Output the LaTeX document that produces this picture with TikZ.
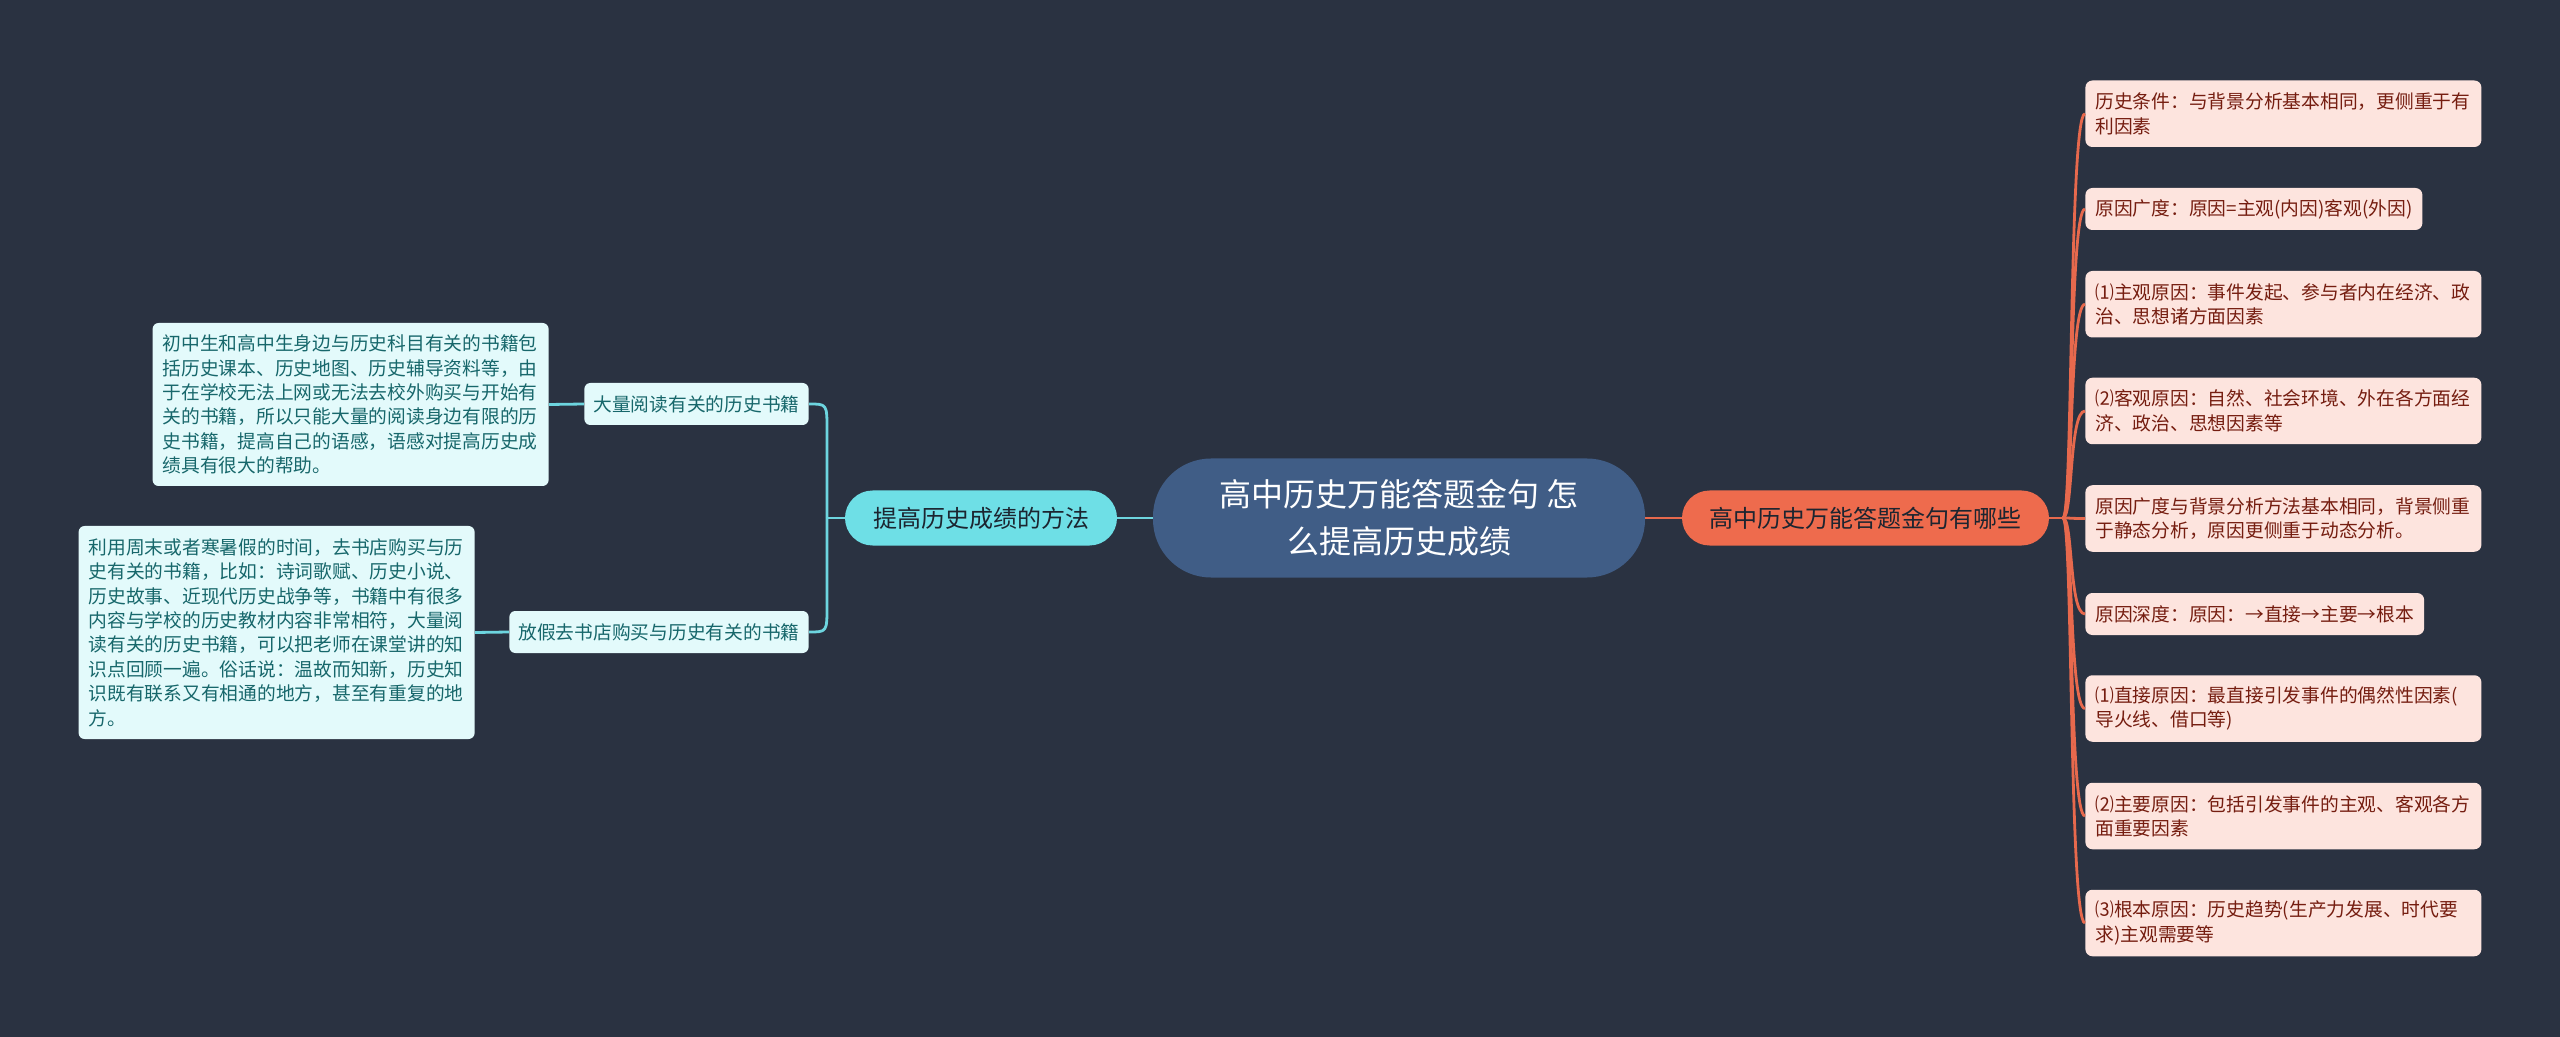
\documentclass[tikz,border=0pt]{standalone}
\usepackage{fontspec}
\newfontfamily\cjk{Noto Sans CJK SC}
\usepackage{xcolor}
\usetikzlibrary{calc}

\definecolor{bgcol}{HTML}{2A3241}
\definecolor{rootcol}{HTML}{405D86}
\definecolor{cyancol}{HTML}{6EDFE6}
\definecolor{cyanline}{HTML}{6DD5DF}
\definecolor{cyanleaf}{HTML}{E3FAFB}
\definecolor{cyantext}{HTML}{17676B}
\definecolor{redcol}{HTML}{EE6B4D}
\definecolor{redline}{HTML}{E7694D}
\definecolor{redleaf}{HTML}{FDE4DE}
\definecolor{redtext}{HTML}{751D10}
\definecolor{darktext}{HTML}{1C2530}

\begin{document}
\begin{tikzpicture}[
			x=0.5pt, y=-0.5pt,
			root/.style={fill=rootcol, text=white, rounded corners=29pt,
				minimum width=246pt, minimum height=59.5pt, align=center,
				font=\cjk\fontsize{16pt}{23.3pt}\selectfont},
			branch/.style={rounded corners=13.75pt, minimum height=27.5pt,
				font=\cjk\fontsize{12pt}{14pt}\selectfont},
			lsub/.style={fill=cyanleaf, text=cyantext, rounded corners=3pt,
				inner xsep=4.5pt, inner ysep=2pt, minimum height=21pt,
				font=\cjk\fontsize{9.375pt}{12.2pt}\selectfont},
			lleaf/.style={lsub, inner xsep=5pt, text width=188pt, align=left},
			rleaf/.style={fill=redleaf, text=redtext, rounded corners=3.5pt,
				inner xsep=5pt, inner ysep=2pt, minimum height=21pt, align=left,
				anchor=west, font=\cjk\fontsize{9.375pt}{12.2pt}\selectfont},
			wide/.style={text width=188pt, minimum height=33.25pt},
			lline/.style={draw=cyanline, line width=1.4pt},
			rline/.style={draw=redline, line width=1.4pt}
			]
			% 背景与画面大小 (按 2560x1037 像素)
			\fill[bgcol] (0,0) rectangle (2560,1037);
			\useasboundingbox (0,0) rectangle (2560,1037);
			
			% 分支线的竖直"脊"的位置
			\def\lsx{827}
			\def\rsx{2063}
			
			% 中心主题
			\node[root] (root) at (1399,518) {高中历史万能答题金句 怎\\么提高历史成绩};
			
			% 两个一级分支
			\node[branch, fill=cyancol, text=darktext, minimum width=136pt] (method) at (981,518) {提高历史成绩的方法};
			\node[branch, fill=redcol, text=darktext, minimum width=183.5pt] (golden) at (1865.5,518) {高中历史万能答题金句有哪些};
			
			% 左侧：二级分支
			\node[lsub, anchor=east] (read) at (809,404) {大量阅读有关的历史书籍};
			\node[lsub, anchor=east] (shop) at (809,632) {放假去书店购买与历史有关的书籍};
			
			% 左侧：说明文字
			\node[lleaf, anchor=east, minimum height=81.5pt] (readtxt) at (549,404.5)
			{初中生和高中生身边与历史科目有关的书籍包\\括历史课本、历史地图、历史辅导资料等，由\\于在学校无法上网或无法去校外购买与开始有\\关的书籍，所以只能大量的阅读身边有限的历\\史书籍，提高自己的语感，语感对提高历史成\\绩具有很大的帮助。};
			\node[lleaf, anchor=east, minimum height=106.5pt] (shoptxt) at (475,632.5)
			{利用周末或者寒暑假的时间，去书店购买与历\\史有关的书籍，比如：诗词歌赋、历史小说、\\历史故事、近现代历史战争等，书籍中有很多\\内容与学校的历史教材内容非常相符，大量阅\\读有关的历史书籍，可以把老师在课堂讲的知\\识点回顾一遍。俗话说：温故而知新，历史知\\识既有联系又有相通的地方，甚至有重复的地\\方。};
			
			% 右侧：九条要点
			\node[rleaf, wide] (r1) at (2085,113.75) {历史条件：与背景分析基本相同，更侧重于有\\利因素};
			\node[rleaf] (r2) at (2085,209) {原因广度：原因=主观(内因)客观(外因)};
			\node[rleaf, wide] (r3) at (2085,304.25) {⑴主观原因：事件发起、参与者内在经济、政\\治、思想诸方面因素};
			\node[rleaf, wide] (r4) at (2085,411) {⑵客观原因：自然、社会环境、外在各方面经\\济、政治、思想因素等};
			\node[rleaf, wide] (r5) at (2085,518.5) {原因广度与背景分析方法基本相同，背景侧重\\于静态分析，原因更侧重于动态分析。};
			\node[rleaf] (r6) at (2085,614) {原因深度：原因：→直接→主要→根本};
			\node[rleaf, wide] (r7) at (2085,708.5) {⑴直接原因：最直接引发事件的偶然性因素(\\导火线、借口等)};
			\node[rleaf, wide] (r8) at (2085,816) {⑵主要原因：包括引发事件的主观、客观各方\\面重要因素};
			\node[rleaf, wide] (r9) at (2085,923) {⑶根本原因：历史趋势(生产力发展、时代要\\求)主观需要等};
			
			% 中心到一级分支
			\draw[lline] (root.west) -- (method.east);
			\draw[rline] (root.east) -- (golden.west);
			
			% 左侧分支线
			\coordinate (lsp) at (\lsx,518);
			\draw[lline] (method.west) -- (lsp);
			\draw[lline] (lsp) -- (\lsx,430) .. controls (\lsx,404) .. (read.east);
			\draw[lline] (lsp) -- (\lsx,606) .. controls (\lsx,632) .. (shop.east);
			\draw[lline] (read.west) -- (readtxt.east);
			\draw[lline] (shop.west) -- (shoptxt.east);
			
			% 右侧分支线
			\coordinate (rsp) at (\rsx,518);
			\draw[rline] (golden.east) -- (rsp);
			\foreach \n in {r1,r2,r3,r4,r5,r6,r7,r8,r9}
			\draw[rline] (rsp) .. controls (2073,518) and ($(\n.west)+(-16,0)$) .. (\n.west);
			
		\end{tikzpicture}
\end{document}
